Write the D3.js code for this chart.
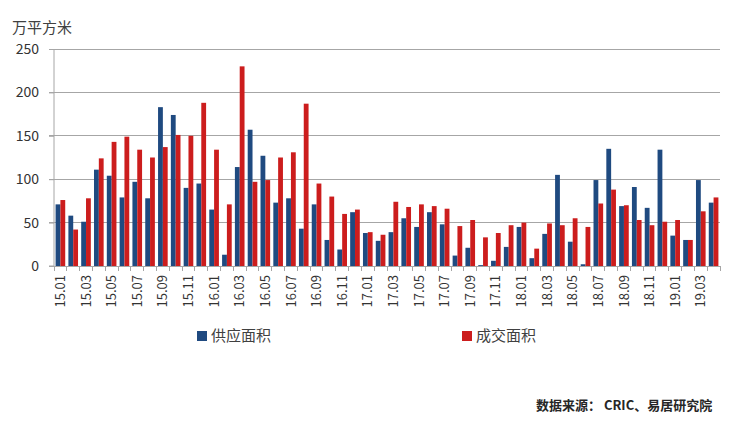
<!DOCTYPE html>
<html><head><meta charset="utf-8">
<script src="https://cdn.jsdelivr.net/npm/d3@7"></script>
<style>body{margin:0;background:#fff}svg{display:block}</style>
</head><body>
<svg id="c" width="740" height="432"></svg>
<script>
const months = [
"15.01","15.02","15.03","15.04","15.05","15.06","15.07","15.08","15.09","15.10","15.11","15.12",
"16.01","16.02","16.03","16.04","16.05","16.06","16.07","16.08","16.09","16.10","16.11","16.12",
"17.01","17.02","17.03","17.04","17.05","17.06","17.07","17.08","17.09","17.10","17.11","17.12",
"18.01","18.02","18.03","18.04","18.05","18.06","18.07","18.08","18.09","18.10","18.11","18.12",
"19.01","19.02","19.03","19.04"];
const supply = [71,58,51,111,104,79,97,78,183,174,90,95,
65,13,114,157,127,73,78,43,71,30,19,62,
38,29,39,55,45,62,48,12,21,1,6,22,
45,9,37,105,28,2,99,135,69,91,67,134,
35,30,99,73];
const deal = [76,42,78,124,143,149,134,125,137,151,150,188,
134,71,230,97,99,125,131,187,95,80,60,65,
39,36,74,68,71,69,66,46,53,33,38,47,
50,20,49,47,55,45,72,88,70,53,47,51,
53,30,63,79];
const yTicks = [0,50,100,150,200,250];
const seriesNames = ["供应面积","成交面积"];
const colors = ["#1f4a80","#cc1d1d"];

const svg = d3.select("#c");
const font = "'Noto Sans CJK SC','Noto Sans',sans-serif";
const L = 54, R = 720, T = 49, B = 266;
const x = d3.scaleBand().domain(months).range([L, R]).paddingInner(0).paddingOuter(0);
const inner = d3.scaleBand().domain([0,1]).range([0, x.bandwidth()]).paddingInner(0).paddingOuter(0.33);
const y = d3.scaleLinear().domain([0,250]).range([B, T]);

// grid
svg.append("g").selectAll("line").data(yTicks.filter(d=>d>0)).join("line")
  .attr("x1", L-5).attr("x2", R).attr("y1", d=>y(d)).attr("y2", d=>y(d))
  .attr("stroke", "#a6a6a6").attr("stroke-width", 1).attr("shape-rendering","crispEdges");

// y axis
const ya = svg.append("g").attr("transform", `translate(${L},0)`)
  .call(d3.axisLeft(y).tickValues(yTicks).tickSize(5).tickPadding(10));
ya.select(".domain").attr("stroke","#a6a6a6").attr("d", `M-5,${y(0)}H0V${y(250)}`);
ya.selectAll(".tick line").attr("stroke","#a6a6a6");
ya.selectAll("text").attr("font-family", font).attr("font-size", 14).attr("fill","#333");

// bars
const data = [supply, deal];
data.forEach((arr, si) => {
  svg.append("g").selectAll("rect").data(arr).join("rect")
    .attr("x", (d,i)=> x(months[i]) + inner(si))
    .attr("y", d=>y(d))
    .attr("width", inner.bandwidth())
    .attr("height", d=>y(0)-y(d))
    .attr("fill", colors[si]);
});

// x axis
const xa = svg.append("g").attr("transform", `translate(0,${B})`)
  .call(d3.axisBottom(x).tickSize(0).tickFormat((d,i)=> i%2===0 ? d : ""));
xa.select(".domain").attr("stroke","#a6a6a6");
xa.selectAll(".tick text")
  .attr("font-family", font).attr("font-size", 13).attr("fill","#333")
  .attr("transform","rotate(-90)").attr("text-anchor","end")
  .attr("dx","-9").attr("dy","0.35em").attr("x",0).attr("y",0);
// boundary ticks
svg.append("g").selectAll("line").data(d3.range(months.length+1)).join("line")
  .attr("x1", i=> L + i*x.step()).attr("x2", i=> L + i*x.step())
  .attr("y1", B).attr("y2", B+5).attr("stroke","#a6a6a6").attr("shape-rendering","crispEdges");

// unit title
svg.append("text").attr("x", 12).attr("y", 33).text("万平方米")
  .attr("font-family", font).attr("font-size", 15).attr("fill","#404040");

// legend
const lg = [[197, 0],[462, 1]];
lg.forEach(([lx, si]) => {
  svg.append("rect").attr("x", lx).attr("y", 331).attr("width", 10).attr("height", 10).attr("fill", colors[si]);
  svg.append("text").attr("x", lx+14).attr("y", 341).text(seriesNames[si])
    .attr("font-family", font).attr("font-size", 15).attr("fill","#404040");
});

// source
svg.append("text").attr("x", 536).attr("y", 410).text("数据来源： CRIC、易居研究院")
  .attr("font-family", font).attr("font-size", 13).attr("font-weight", "bold").attr("fill","#262626");
</script>
</body></html>
